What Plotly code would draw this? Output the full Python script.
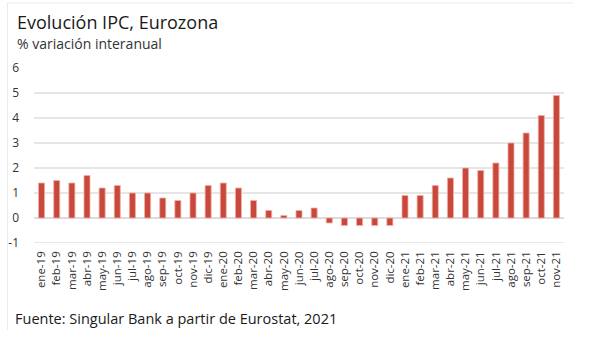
import plotly.graph_objects as go

months = ["ene-19","feb-19","mar-19","abr-19","may-19","jun-19","jul-19","ago-19","sep-19","oct-19","nov-19","dic-19",
          "ene-20","feb-20","mar-20","abr-20","may-20","jun-20","jul-20","ago-20","sep-20","oct-20","nov-20","dic-20",
          "ene-21","feb-21","mar-21","abr-21","may-21","jun-21","jul-21","ago-21","sep-21","oct-21","nov-21"]
ipc = [1.4,1.5,1.4,1.7,1.2,1.3,1.0,1.0,0.8,0.7,1.0,1.3,
       1.4,1.2,0.7,0.3,0.1,0.3,0.4,-0.2,-0.3,-0.3,-0.3,-0.3,
       0.9,0.9,1.3,1.6,2.0,1.9,2.2,3.0,3.4,4.1,4.9]
yticks = [-1,0,1,2,3,4,5,6]

W, H = 593, 341
L, R, T, B = 33.5, 29, 68, 98
ph = H - T - B
pw = W - L - R

def py(y):
    return (H - B - y) / ph

def px(x):
    return (x - L) / pw

FONT = "Open Sans"
fig = go.Figure()
fig.add_trace(go.Bar(
    x=months, y=ipc, width=0.4,
    marker=dict(color="#C9483C", line=dict(color="#F2AFA6", width=0.8)),
))

fig.update_layout(
    width=W, height=H,
    margin=dict(l=L, r=R, t=T, b=B, autoexpand=False),
    paper_bgcolor="white", plot_bgcolor="white",
    showlegend=False,
    bargap=0.6,
    font=dict(family=FONT, color="#333333"),
    xaxis=dict(tickangle=-90, tickfont=dict(size=11.5, color="#333333", family=FONT),
               showgrid=False, showline=False, ticks="", range=[-0.5, 34.5],
               automargin=False, ticklabelstandoff=5),
    yaxis=dict(range=[-1, 6], tickvals=yticks, ticktext=[str(v) for v in yticks],
               showgrid=True, gridcolor="#E6E6E6", gridwidth=1.5,
               zeroline=True, zerolinecolor="#DCDCDC", zerolinewidth=1.5,
               tickfont=dict(size=12, color="#333333", family=FONT),
               ticklabelstandoff=14, showline=False, ticks="", automargin=False),
    annotations=[
        dict(text="Evolución IPC, Eurozona", x=px(14), y=py(22), xref="paper", yref="paper",
             xanchor="left", yanchor="middle", showarrow=False,
             font=dict(size=18, color="#1a1a1a", family=FONT)),
        dict(text="% variación interanual", x=px(14), y=py(43), xref="paper", yref="paper",
             xanchor="left", yanchor="middle", showarrow=False,
             font=dict(size=14, color="#333333", family=FONT)),
        dict(text="Fuente: Singular Bank a partir de Eurostat, 2021", x=px(12), y=py(318), xref="paper", yref="paper",
             xanchor="left", yanchor="middle", showarrow=False,
             font=dict(size=14.5, color="#1a1a1a", family=FONT)),
    ],
    shapes=[
        dict(type="line", xref="paper", yref="paper", x0=px(7), x1=px(573), y0=py(3), y1=py(3),
             line=dict(color="#EBEBEB", width=1)),
        dict(type="line", xref="paper", yref="paper", x0=px(7), x1=px(7), y0=py(3), y1=py(330),
             line=dict(color="#EBEBEB", width=1)),
        dict(type="line", xref="paper", yref="y", x0=0, x1=1, y0=yticks[0], y1=yticks[0],
             line=dict(color="#E0E0E0", width=1.5), layer="below"),
    ],
)

fig.write_html("out.html")
